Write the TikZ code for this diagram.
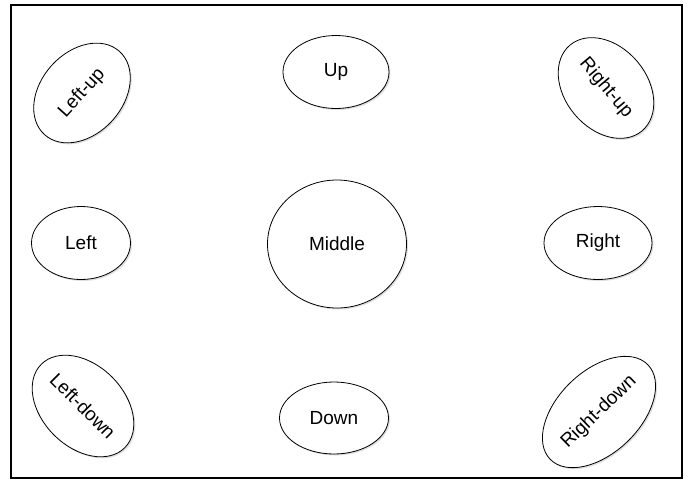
\documentclass[tikz,border=0pt]{standalone}
\usepackage{fontspec}
\setmainfont{Liberation Sans}
\usetikzlibrary{shapes.geometric,shadows}
\begin{document}
\begin{tikzpicture}[x=1pt,y=-1pt,
  blob/.style={ellipse,draw=black,line width=0.8pt,fill=white,inner sep=0pt,
    font=\fontsize{19}{21}\selectfont,
    drop shadow={opacity=0.25,shadow xshift=1.5pt,shadow yshift=-1.5pt}},
  frame/.style={draw=black,line width=1.3pt,fill=white,
    drop shadow={opacity=0.35,shadow xshift=1pt,shadow yshift=-1pt}}]
\useasboundingbox (0,0) rectangle (689,483);
\node[frame,rectangle,minimum width=671pt,minimum height=473pt,inner sep=0pt] (box) at (346.5,241.5) {};
\node[blob,minimum width=112pt,minimum height=82pt,rotate=48] (lu) at (82,93) {Left-up};
\node[blob,minimum width=106pt,minimum height=73pt] (u) at (336,72) {Up};
\node[blob,minimum width=112pt,minimum height=82pt,rotate=-50] (ru) at (606,88) {Right-up};
\node[blob,minimum width=99pt,minimum height=73pt] (l) at (81,243) {Left};
\node[blob,minimum width=139pt,minimum height=128pt] (m) at (337,244) {Middle};
\node[blob,minimum width=108pt,minimum height=73pt] (r) at (598,243) {Right};
\node[blob,minimum width=112pt,minimum height=82pt,rotate=-45] (ld) at (83,406) {Left-down};
\node[blob,minimum width=109pt,minimum height=72pt] (d) at (334,418) {Down};
\node[blob,minimum width=114pt,minimum height=82pt,rotate=44] (rd) at (599,412) {Right-down};
\end{tikzpicture}
\end{document}
